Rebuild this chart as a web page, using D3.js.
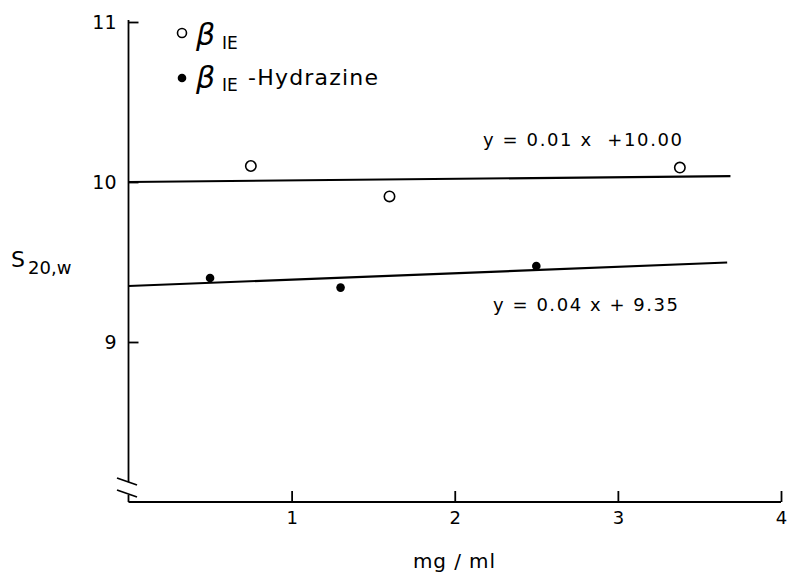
<!DOCTYPE html>
<html>
<head>
<meta charset="utf-8">
<script src="https://cdn.jsdelivr.net/npm/d3@7"></script>
<style>
  body { margin: 0; background: #fff; }
  text { font-family: "DejaVu Sans", sans-serif; fill: #000; }
</style>
</head>
<body>
<script>
// data
let beta_x = [0.75, 1.60, 3.38]
let beta_y = [10.10, 9.91, 10.09]
let hyd_x = [0.50, 1.30, 2.50]
let hyd_y = [9.40, 9.34, 9.475]

let fit_slope = [0.01, 0.04]
let fit_icpt = [10.00, 9.35]
let fit_xend = [3.69, 3.67]
let fit_labels = ["y = 0.01 x  +10.00", "y = 0.04 x + 9.35"]

let xTicks = [1, 2, 3, 4]
let yTicks = [9, 10, 11]

let width = 787
let height = 573

let svg = d3.select('body')
  .append('svg')
  .attr('width', width)
  .attr('height', height)

let scaleX = d3.scaleLinear().domain([0, 4]).range([128.5, 781])
let scaleY = d3.scaleLinear().domain([8, 11]).range([502, 22])

// x axis
let xAxis = svg.append('g')
  .attr('transform', 'translate(0,' + scaleY(8) + ')')
  .call(d3.axisBottom(scaleX).tickValues(xTicks).tickSize(-11).tickPadding(9).tickFormat(d3.format('d')))
xAxis.select('.domain').remove()
xAxis.selectAll('line').attr('stroke-width', 1.8)
xAxis.selectAll('text').style('font-size', '18px')

svg.append('line')
  .attr('x1', scaleX(0)).attr('x2', scaleX(4))
  .attr('y1', scaleY(8)).attr('y2', scaleY(8))
  .attr('stroke', 'black').attr('stroke-width', 1.8)

// y axis
let yAxis = svg.append('g')
  .attr('transform', 'translate(' + scaleX(0) + ',0)')
  .call(d3.axisLeft(scaleY).tickValues(yTicks).tickSize(-10).tickPadding(12).tickFormat(d3.format('d')))
yAxis.select('.domain').remove()
yAxis.selectAll('line').attr('stroke-width', 1.8)
yAxis.selectAll('text').style('font-size', '19px')

// broken y axis line
svg.append('line')
  .attr('x1', scaleX(0)).attr('x2', scaleX(0))
  .attr('y1', scaleY(11) - 2).attr('y2', 482)
  .attr('stroke', 'black').attr('stroke-width', 1.8)
svg.append('line')
  .attr('x1', scaleX(0)).attr('x2', scaleX(0))
  .attr('y1', 495).attr('y2', scaleY(8))
  .attr('stroke', 'black').attr('stroke-width', 1.8)
svg.selectAll('.brk')
  .data([0, 1])
  .enter()
  .append('line')
  .attr('class', 'brk')
  .attr('x1', 117).attr('x2', 137)
  .attr('y1', d => 478 + d * 12).attr('y2', d => 485 + d * 12)
  .attr('stroke', 'black').attr('stroke-width', 1.8)

// fitted lines
svg.selectAll('.fit')
  .data(fit_slope)
  .enter()
  .append('line')
  .attr('class', 'fit')
  .attr('x1', scaleX(0))
  .attr('y1', (d, i) => scaleY(fit_icpt[i]))
  .attr('x2', (d, i) => scaleX(fit_xend[i]))
  .attr('y2', (d, i) => scaleY(fit_icpt[i] + d * fit_xend[i]))
  .attr('stroke', 'black')
  .attr('stroke-width', 2.2)

// equations
let eqPos = [[483, 146, 199], [493, 311, 185]]
svg.selectAll('.eq')
  .data(fit_labels)
  .enter()
  .append('text')
  .attr('class', 'eq')
  .attr('x', (d, i) => eqPos[i][0])
  .attr('y', (d, i) => eqPos[i][1])
  .attr('textLength', (d, i) => eqPos[i][2])
  .attr('lengthAdjust', 'spacing')
  .style('font-size', '18px')
  .style('white-space', 'pre')
  .text(d => d)

// points
svg.selectAll('.open')
  .data(beta_x)
  .enter()
  .append('circle')
  .attr('class', 'open')
  .attr('cx', d => scaleX(d))
  .attr('cy', (d, i) => scaleY(beta_y[i]))
  .attr('r', 5.2)
  .attr('fill', 'white')
  .attr('stroke', 'black')
  .attr('stroke-width', 1.6)

svg.selectAll('.filled')
  .data(hyd_x)
  .enter()
  .append('circle')
  .attr('class', 'filled')
  .attr('cx', d => scaleX(d))
  .attr('cy', (d, i) => scaleY(hyd_y[i]))
  .attr('r', 4.3)
  .attr('fill', 'black')

// legend
svg.append('circle').attr('cx', 182).attr('cy', 33).attr('r', 4.5)
  .attr('fill', 'white').attr('stroke', 'black').attr('stroke-width', 1.6)
svg.append('circle').attr('cx', 182).attr('cy', 78).attr('r', 4.3).attr('fill', 'black')

let leg1 = svg.append('text').attr('x', 196).attr('y', 45)
leg1.append('tspan').style('font-size', '30px').style('font-style', 'italic').text('β')
leg1.append('tspan').attr('x', 222).attr('y', 49).style('font-size', '17px').text('IE')

let leg2 = svg.append('text').attr('x', 196).attr('y', 88)
leg2.append('tspan').style('font-size', '30px').style('font-style', 'italic').text('β')
leg2.append('tspan').attr('x', 222).attr('y', 91).style('font-size', '17px').text('IE')
leg2.append('tspan').attr('x', 248).attr('y', 85).attr('textLength', 130)
  .attr('lengthAdjust', 'spacing').style('font-size', '22px').text('-Hydrazine')

// axis titles
let yt = svg.append('text').attr('x', 11).attr('y', 267)
yt.append('tspan').style('font-size', '22px').text('S')
yt.append('tspan').attr('x', 28).attr('y', 274).style('font-size', '18px').text('20,w')

svg.append('text')
  .attr('x', 413).attr('y', 568)
  .attr('textLength', 82)
  .attr('lengthAdjust', 'spacing')
  .style('font-size', '20px')
  .text('mg / ml')
</script>
</body>
</html>
